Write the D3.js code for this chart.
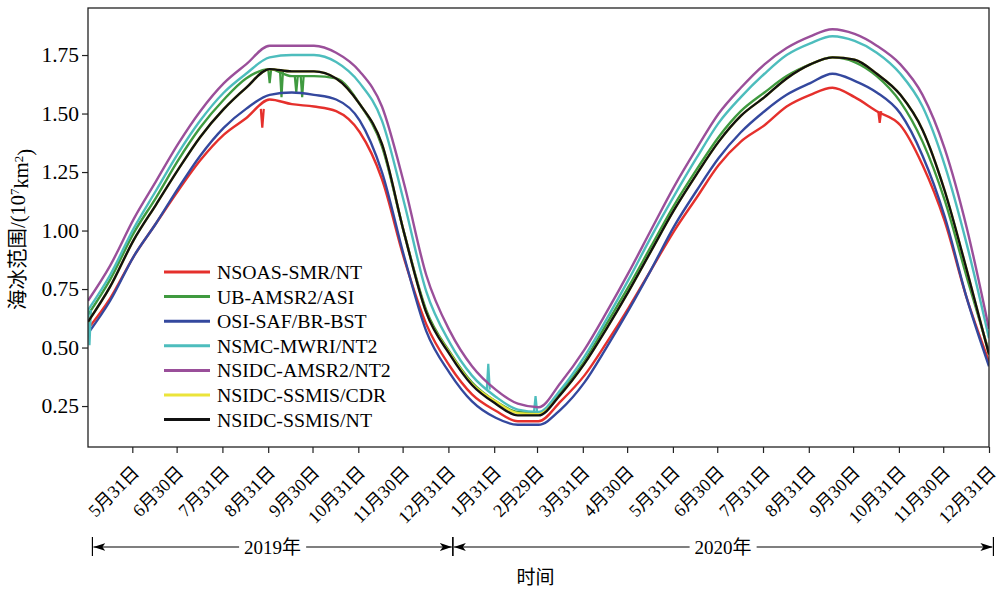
<!DOCTYPE html>
<html>
<head>
<meta charset="utf-8">
<script src="https://cdn.jsdelivr.net/npm/d3@7"></script>
<style>
  body { margin: 0; background: #fff; }
  text { font-family: "Liberation Serif", "Noto Sans CJK SC", serif; fill: #000; }
</style>
</head>
<body>
<svg id="chart" width="1000" height="590"></svg>
<script>
// sample dates (half-monthly), values in 10^7 km^2
const dates = [
  "2019-05-01","2019-05-16","2019-06-01","2019-06-16","2019-07-01","2019-07-16","2019-08-01","2019-08-16",
  "2019-09-01","2019-09-16","2019-10-01","2019-10-16","2019-11-01","2019-11-16","2019-12-01","2019-12-16",
  "2020-01-01","2020-01-16","2020-02-01","2020-02-16","2020-03-01","2020-03-16","2020-04-01","2020-04-16",
  "2020-05-01","2020-05-16","2020-06-01","2020-06-16","2020-07-01","2020-07-16","2020-08-01","2020-08-16",
  "2020-09-01","2020-09-16","2020-10-01","2020-10-16","2020-11-01","2020-11-16","2020-12-01","2020-12-16",
  "2020-12-31"
];

const nsoasSmrNt = [0.58, 0.71, 0.89, 1.03, 1.17, 1.30, 1.41, 1.48, 1.56, 1.54, 1.53, 1.51, 1.42, 1.22, 0.88, 0.60,
  0.42, 0.30, 0.23, 0.185, 0.185, 0.27, 0.38, 0.52, 0.67, 0.83, 1.00, 1.14, 1.28, 1.38, 1.45, 1.53,
  1.58, 1.61, 1.57, 1.51, 1.45, 1.28, 1.04, 0.71, 0.44];
const ubAmsr2Asi = [0.64, 0.79, 0.99, 1.14, 1.30, 1.44, 1.56, 1.65, 1.69, 1.66, 1.66, 1.65, 1.54, 1.36, 0.99, 0.66,
  0.48, 0.35, 0.27, 0.225, 0.22, 0.31, 0.44, 0.60, 0.76, 0.93, 1.11, 1.26, 1.40, 1.51, 1.59, 1.66,
  1.71, 1.74, 1.72, 1.66, 1.55, 1.38, 1.13, 0.80, 0.48];
const osiSafBrBst = [0.56, 0.70, 0.89, 1.03, 1.18, 1.32, 1.44, 1.52, 1.58, 1.59, 1.58, 1.56, 1.47, 1.25, 0.89, 0.57,
  0.39, 0.27, 0.20, 0.17, 0.17, 0.235, 0.35, 0.50, 0.66, 0.83, 1.02, 1.17, 1.31, 1.42, 1.51, 1.58,
  1.63, 1.67, 1.64, 1.59, 1.50, 1.32, 1.06, 0.71, 0.42];
const nsmcMwriNt2 = [0.66, 0.81, 1.01, 1.17, 1.33, 1.47, 1.59, 1.67, 1.74, 1.75, 1.75, 1.72, 1.63, 1.47, 1.12, 0.74,
  0.52, 0.38, 0.29, 0.235, 0.225, 0.32, 0.46, 0.62, 0.79, 0.97, 1.15, 1.31, 1.46, 1.57, 1.67, 1.75,
  1.80, 1.83, 1.81, 1.76, 1.67, 1.53, 1.28, 0.94, 0.54];
const nsidcAmsr2Nt2 = [0.70, 0.85, 1.05, 1.21, 1.37, 1.51, 1.63, 1.71, 1.79, 1.79, 1.79, 1.76, 1.68, 1.53, 1.20, 0.81,
  0.57, 0.42, 0.32, 0.26, 0.245, 0.35, 0.49, 0.65, 0.82, 1.00, 1.19, 1.35, 1.50, 1.61, 1.71, 1.78,
  1.83, 1.86, 1.84, 1.79, 1.71, 1.58, 1.35, 1.01, 0.58];
const nsidcSsmisCdr = [0.61, 0.76, 0.96, 1.11, 1.26, 1.40, 1.52, 1.61, 1.69, 1.68, 1.68, 1.65, 1.54, 1.37, 0.99, 0.65,
  0.475, 0.345, 0.27, 0.22, 0.215, 0.30, 0.43, 0.58, 0.74, 0.91, 1.09, 1.24, 1.38, 1.49, 1.57, 1.65,
  1.71, 1.74, 1.73, 1.67, 1.58, 1.43, 1.17, 0.83, 0.47];
const nsidcSsmisNt = [0.61, 0.76, 0.96, 1.11, 1.26, 1.40, 1.52, 1.61, 1.69, 1.68, 1.68, 1.65, 1.54, 1.37, 0.99, 0.65,
  0.47, 0.34, 0.26, 0.21, 0.21, 0.30, 0.43, 0.58, 0.74, 0.91, 1.09, 1.24, 1.38, 1.49, 1.57, 1.65,
  1.71, 1.74, 1.73, 1.67, 1.58, 1.43, 1.17, 0.83, 0.47];

// single-day spikes: [date, value next to spike, spike value]
const redSpikes = [["2019-08-27", 1.52, 1.44], ["2020-10-18", 1.51, 1.46]];
const greenSpikes = [["2019-09-01", 1.69, 1.63], ["2019-09-09", 1.68, 1.57], ["2019-09-19", 1.66, 1.59], ["2019-09-23", 1.66, 1.57]];
const cyanSpikes = [["2019-05-02", 0.66, 0.51], ["2020-01-27", 0.32, 0.43], ["2020-02-28", 0.228, 0.293]];

const seriesNames = ["NSOAS-SMR/NT", "UB-AMSR2/ASI", "OSI-SAF/BR-BST", "NSMC-MWRI/NT2", "NSIDC-AMSR2/NT2", "NSIDC-SSMIS/CDR", "NSIDC-SSMIS/NT"];
const seriesValues = [nsoasSmrNt, ubAmsr2Asi, osiSafBrBst, nsmcMwriNt2, nsidcAmsr2Nt2, nsidcSsmisCdr, nsidcSsmisNt];
const seriesSpikes = [redSpikes, greenSpikes, [], cyanSpikes, [], [], []];
const colors = ["#e5302c", "#3f9a3f", "#34489e", "#4dbdbd", "#9a4f9a", "#ebe43a", "#111111"];

const tickDates = ["2019-05-31","2019-06-30","2019-07-31","2019-08-31","2019-09-30","2019-10-31","2019-11-30","2019-12-31",
  "2020-01-31","2020-02-29","2020-03-31","2020-04-30","2020-05-31","2020-06-30","2020-07-31","2020-08-31",
  "2020-09-30","2020-10-31","2020-11-30","2020-12-31"];
const tickLabels = ["5月31日","6月30日","7月31日","8月31日","9月30日","10月31日","11月30日","12月31日",
  "1月31日","2月29日","3月31日","4月30日","5月31日","6月30日","7月31日","8月31日",
  "9月30日","10月31日","11月30日","12月31日"];
const yTicks = [0.25, 0.50, 0.75, 1.00, 1.25, 1.50, 1.75];

const years = ["2019年", "2020年"];
const yearBounds = ["2019-05-04", "2020-01-03", "2021-01-03"];

const parse = d3.utcParse("%Y-%m-%d");
const DAY = 86400000;

let margin = { top: 8, right: 11, bottom: 143, left: 88 },
  width = 1000 - margin.left - margin.right,
  height = 590 - margin.top - margin.bottom;

let svg = d3.select("#chart");
let g = svg.append("g").attr("transform", "translate(" + margin.left + "," + margin.top + ")");

let x = d3.scaleUtc()
  .domain([parse("2019-05-01"), parse("2020-12-31")])
  .range([0, width]);
let y = d3.scaleLinear()
  .domain([0.075, 1.951])
  .range([height, 0]);

g.append("clipPath").attr("id", "plot-clip")
  .append("rect").attr("width", width).attr("height", height);

let line = d3.line()
  .x(d => x(d.date))
  .y(d => y(d.value))
  .curve(d3.curveMonotoneX);
let spikeLine = d3.line()
  .x(d => x(d.date))
  .y(d => y(d.value));

let plot = g.append("g").attr("clip-path", "url(#plot-clip)");

seriesValues.forEach((vals, i) => {
  let data = vals.map((v, j) => ({ date: parse(dates[j]), value: v }));
  plot.append("path")
    .datum(data)
    .attr("fill", "none")
    .attr("stroke", colors[i])
    .attr("stroke-width", 2.4)
    .attr("stroke-linejoin", "round")
    .attr("d", line);

  seriesSpikes[i].forEach(s => {
    let t = parse(s[0]);
    let pts = [
      { date: new Date(t.getTime() - DAY), value: s[1] },
      { date: t, value: s[2] },
      { date: new Date(t.getTime() + DAY), value: s[1] }
    ];
    plot.append("path")
      .datum(pts)
      .attr("fill", "none")
      .attr("stroke", colors[i])
      .attr("stroke-width", 2.2)
      .attr("d", spikeLine);
  });
});

// frame
g.append("rect")
  .attr("width", width)
  .attr("height", height)
  .attr("fill", "none")
  .attr("stroke", "#222")
  .attr("stroke-width", 1.3);

// y axis
let yAxis = g.append("g")
  .call(d3.axisLeft(y).tickValues(yTicks).tickFormat(d3.format(".2f")).tickSize(6).tickPadding(3));
yAxis.select(".domain").remove();
yAxis.selectAll("line").attr("stroke", "#222").attr("stroke-width", 1.2);
yAxis.selectAll("text").attr("font-size", 21.5);

// x axis
let xAxis = g.append("g")
  .attr("transform", "translate(0," + height + ")")
  .call(d3.axisBottom(x).tickValues(tickDates.map(parse)).tickFormat((d, i) => tickLabels[i]).tickSize(6));
xAxis.select(".domain").remove();
xAxis.selectAll("line").attr("stroke", "#222").attr("stroke-width", 1.2);
xAxis.selectAll("text")
  .attr("font-size", 18)
  .attr("text-anchor", "end")
  .attr("x", null).attr("dy", "0.35em")
  .attr("y", null)
  .attr("transform", "translate(3,22) rotate(-45)");

// y label
let yLabel = svg.append("text")
  .attr("transform", "translate(25," + (margin.top + height / 2 + 2) + ") rotate(-90)")
  .attr("text-anchor", "middle")
  .attr("font-size", 20.5);
yLabel.append("tspan").text("海冰范围/(10");
yLabel.append("tspan").attr("dy", "-0.45em").attr("font-size", 13).text("7");
yLabel.append("tspan").attr("dy", "0.45em").text("km");
yLabel.append("tspan").attr("dy", "-0.45em").attr("font-size", 13).text("2");
yLabel.append("tspan").attr("dy", "0.45em").text(")");

// year spans with arrows
let defs = svg.append("defs");
defs.append("marker")
  .attr("id", "arrow")
  .attr("viewBox", "0 0 12 8")
  .attr("refX", 12).attr("refY", 4)
  .attr("markerWidth", 12).attr("markerHeight", 8)
  .attr("markerUnits", "userSpaceOnUse")
  .attr("orient", "auto-start-reverse")
  .append("path").attr("d", "M0,0 L12,4 L0,8 L3,4 Z").attr("fill", "#000");

let yearY = 547;
years.forEach((label, i) => {
  let x0 = margin.left + x(parse(yearBounds[i]));
  let x1 = margin.left + x(parse(yearBounds[i + 1]));
  let mid = (x0 + x1) / 2;
  let t = svg.append("text")
    .attr("x", mid).attr("y", yearY)
    .attr("dy", "0.35em")
    .attr("text-anchor", "middle")
    .attr("font-size", 19)
    .text(label);
  let half = t.node().getComputedTextLength() / 2 + 5;
  svg.append("line")
    .attr("x1", mid - half).attr("x2", x0 + 1).attr("y1", yearY).attr("y2", yearY)
    .attr("stroke", "#000").attr("stroke-width", 1.2)
    .attr("marker-end", "url(#arrow)");
  svg.append("line")
    .attr("x1", mid + half).attr("x2", x1 - 1).attr("y1", yearY).attr("y2", yearY)
    .attr("stroke", "#000").attr("stroke-width", 1.2)
    .attr("marker-end", "url(#arrow)");
  [x0, x1].forEach(xx => {
    svg.append("line")
      .attr("x1", xx).attr("x2", xx).attr("y1", yearY - 10).attr("y2", yearY + 9)
      .attr("stroke", "#000").attr("stroke-width", 1.2);
  });
});

// x label
svg.append("text")
  .attr("x", margin.left + width / 2 - 3).attr("y", 577)
  .attr("dy", "0.35em")
  .attr("text-anchor", "middle")
  .attr("font-size", 19)
  .text("时间");

// legend
let legend = svg.append("g").attr("transform", "translate(164,272)");
seriesNames.forEach((name, i) => {
  let row = legend.append("g").attr("transform", "translate(0," + i * 24.6 + ")");
  row.append("line")
    .attr("x1", 0).attr("x2", 46)
    .attr("stroke", colors[i]).attr("stroke-width", 3);
  row.append("text")
    .attr("x", 53).attr("dy", "0.35em")
    .attr("font-size", 19.8)
    .text(name);
});
</script>
</body>
</html>
